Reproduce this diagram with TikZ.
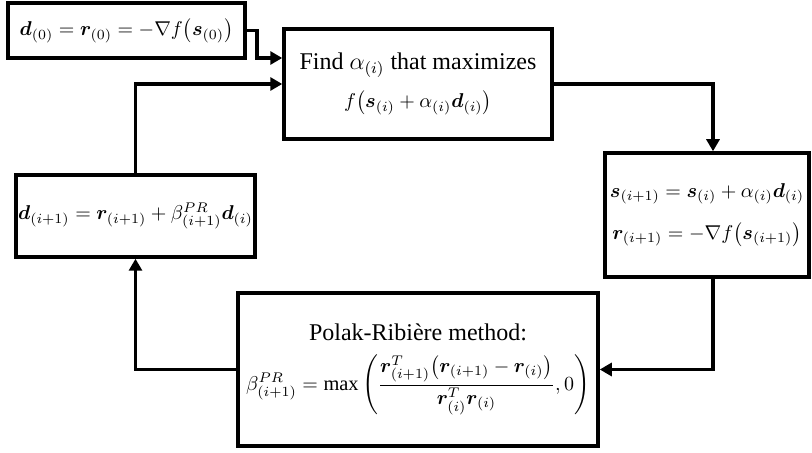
\documentclass[tikz,border=0pt]{standalone}
\usepackage{amsmath}
\usepackage{bm}
\usepackage{fontspec}
\setmainfont{Liberation Serif}
\usetikzlibrary{arrows.meta}
\newcommand{\plain}[1]{{\fontsize{12}{15}\selectfont #1}}
\begin{document}
\begin{tikzpicture}[x=0.5pt, y=-0.5pt, every node/.style={font=\fontsize{10.2}{13}\selectfont}]
        \tikzstyle{block} = [rectangle, draw, line width=1.75pt, align=center, inner sep=1pt]
        \tikzstyle{arrow} = [line width=1.75pt, -{Triangle[length=6pt, width=6.5pt]}]
        \useasboundingbox (0,0) rectangle (812,453);

        \node [block, minimum width=118.5pt, minimum height=27.5pt] (init)    at (126.5,30.5) {$\bm{d}_{(0)} = \bm{r}_{(0)} = -\nabla f\big(\bm{s}_{(0)}\big)$};
        \node [block, minimum width=134pt,   minimum height=55pt]   (find)    at (418,84)     {\plain{Find $\alpha_{(i)}$ that maximizes}\\[6pt] $f\big(\bm{s}_{(i)} + \alpha_{(i)}\bm{d}_{(i)}\big)$};
        \node [block, minimum width=102pt,   minimum height=62pt]   (advance) at (707,215)    {$\bm{s}_{(i+1)} = \bm{s}_{(i)} + \alpha_{(i)}\bm{d}_{(i)}$\\[8pt] $\bm{r}_{(i+1)} = -\nabla f\big(\bm{s}_{(i+1)}\big)$};
        \node [block, minimum width=180pt,   minimum height=76.5pt] (polak)   at (418,369.5)  {\plain{Polak-Ribière method:}\\[6pt] $\beta^{PR}_{(i+1)} = \max\left(\dfrac{\bm{r}^{T}_{(i+1)}\big(\bm{r}_{(i+1)} - \bm{r}_{(i)}\big)}{\bm{r}^{T}_{(i)}\bm{r}_{(i)}}, 0\right)$};
        \node [block, minimum width=110.5pt, minimum height=41pt]   (update)  at (135.5,216)  {$\bm{d}_{(i+1)} = \bm{r}_{(i+1)} + \beta^{PR}_{(i+1)}\bm{d}_{(i)}$};

        \coordinate (jog)  at (257,58);
        \coordinate (drop) at (713,0);

        \draw [arrow] (init.east) -| (jog) -- (jog -| find.west);
        \draw [arrow] (find.east) -| (drop |- advance.north);
        \draw [arrow] (drop |- advance.south) |- (polak.east);
        \draw [arrow] (polak.west) -| (update.south);
        \draw [arrow] (update.north) |- (find.west);
    \end{tikzpicture}
\end{document}
